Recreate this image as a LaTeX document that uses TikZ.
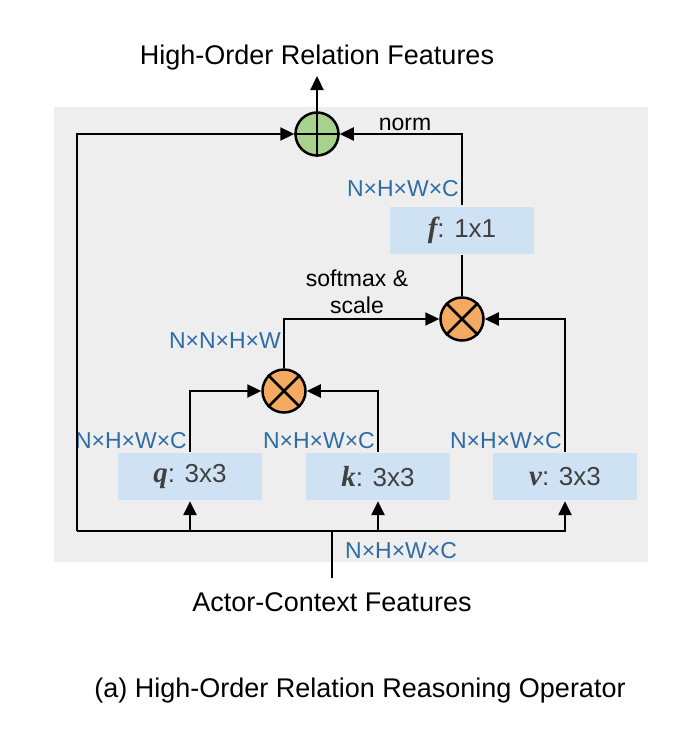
\documentclass[tikz,border=0pt]{standalone}
\usepackage{fontspec}
\setmainfont{Liberation Sans}
\newfontfamily\letfont{Liberation Serif}
\newcommand{\wt}[1]{{\letfont\fontsize{29}{30}\selectfont\bfseries\itshape #1}}
\usetikzlibrary{arrows.meta}
\definecolor{bggray}{RGB}{238,238,238}
\definecolor{convblue}{RGB}{207,226,243}
\definecolor{dimblue}{RGB}{46,108,168}
\definecolor{opgreen}{RGB}{169,209,142}
\definecolor{oporange}{RGB}{244,170,96}
\tikzset{
  conv/.style={fill=convblue, minimum width=144pt, minimum height=47pt, inner sep=0pt, text=black!75, font=\fontsize{26}{30}\selectfont},
  op/.style={circle, draw, line width=2.5pt, minimum size=43pt, inner sep=0pt},
  dimlab/.style={text=dimblue, font=\fontsize{23}{27}\selectfont, inner sep=0pt, anchor=base east},
  lbl/.style={font=\fontsize{23}{27}\selectfont, inner sep=0pt},
  ttl/.style={font=\fontsize{27}{32}\selectfont, inner sep=0pt, anchor=base},
  arr/.style={-{Triangle[length=14pt,width=13pt]}}
}

\begin{document}
\begin{tikzpicture}[x=1pt, y=-1pt, line width=2.3pt]
          \useasboundingbox (0,0) rectangle (687,734);
          \fill[bggray] (54,107) rectangle (648,562);

          \node[ttl] (out) at (317,64) {High-Order Relation Features};
          \node[op, fill=opgreen] (sum) at (317,134) {};
          \node[conv] (fk) at (462,230) {\wt{f}: 1x1};
          \node[op, fill=oporange] (mv) at (462,319) {};
          \node[op, fill=oporange] (mqk) at (284,391) {};
          \node[conv] (q) at (190,476.5) {\wt{q}: 3x3};
          \node[conv] (k) at (378,476.5) {\wt{k}: 3x3};
          \node[conv] (v) at (565,476.5) {\wt{v}: 3x3};
          \node[ttl] (in) at (332,611) {Actor-Context Features};
          \node[ttl] (cap) at (360,697) {(a) High-Order Relation Reasoning Operator};

          \node[dimlab] (dq) at (188,448) {N×H×W×C};
          \node[dimlab] (dk) at (376,448) {N×H×W×C};
          \node[dimlab] (dv) at (563,448) {N×H×W×C};
          \node[dimlab] (df) at (460,196) {N×H×W×C};
          \node[dimlab] (dqk) at (282,348) {N×N×H×W};
          \node[dimlab, anchor=base west] (din) at (344,558) {N×H×W×C};
          \node[lbl, anchor=base] (nrm) at (405,130) {norm};
          \node[lbl, align=center] (sms) at (357,292) {softmax \&\\scale};

          \coordinate (src) at (332,578);
          \coordinate (bus) at (332,531);
          \coordinate (lft) at (77,531);
          \coordinate (top) at (317,76);

          \draw[line width=2.5pt] (sum.north) -- (sum.south) (sum.west) -- (sum.east);
          \draw[line width=2.5pt] (mv.north east) -- (mv.south west) (mv.north west) -- (mv.south east);
          \draw[line width=2.5pt] (mqk.north east) -- (mqk.south west) (mqk.north west) -- (mqk.south east);

          \draw (src) -- (bus) -- (lft);
          \draw[arr] (lft) |- (sum.west);
          \draw[arr] (bus) -| (v.south);
          \draw[arr] (q.south |- bus) -- (q.south);
          \draw[arr] (k.south |- bus) -- (k.south);
          \draw[arr] (q.north) |- (mqk.west);
          \draw[arr] (k.north) |- (mqk.east);
          \draw[arr] (mqk.north) |- (mv.west);
          \draw[arr] (v.north) |- (mv.east);
          \draw (mv.north) -- (fk.south);
          \draw[arr] (fk.north) |- (sum.east);
          \draw[arr] (sum.north) -- (top);
        \end{tikzpicture}
\end{document}
